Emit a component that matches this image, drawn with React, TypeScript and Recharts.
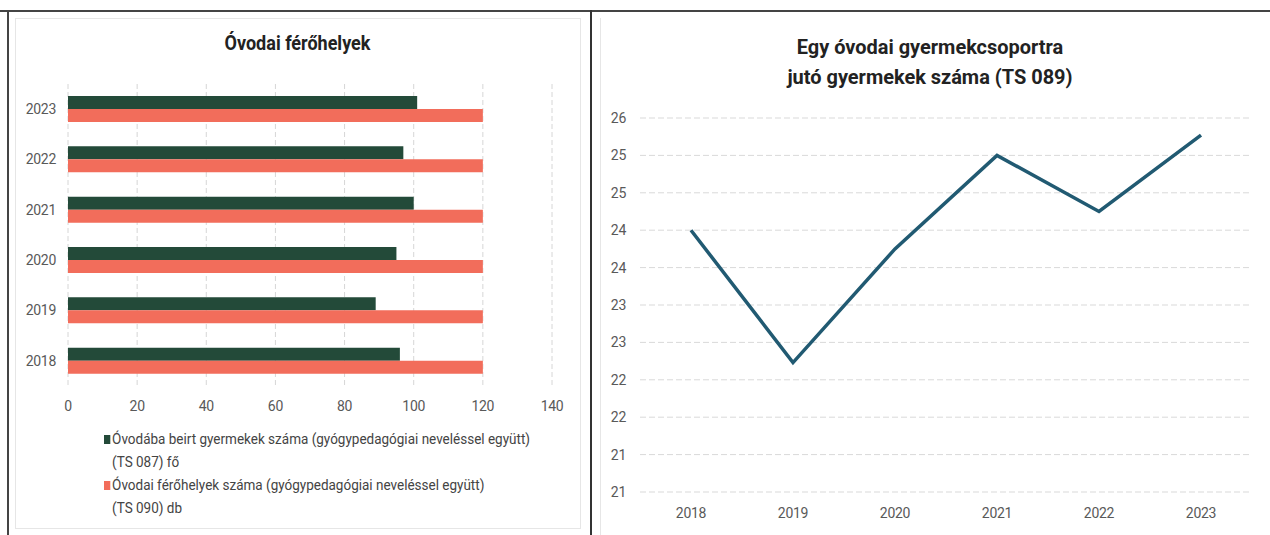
import { BarChart, Bar, LineChart, Line, XAxis, YAxis, CartesianGrid } from 'recharts';

const years = ['2018', '2019', '2020', '2021', '2022', '2023'];
const enrolled = [96, 89, 95, 100, 97, 101];
const places = [120, 120, 120, 120, 120, 120];
const perGroup = [24.5, 22.73, 24.25, 25.5, 24.75, 25.77];

const barTicks = [0, 20, 40, 60, 80, 100, 120, 140];
const lineTicks = [21, 21.5, 22, 22.5, 23, 23.5, 24, 24.5, 25, 25.5, 26];

const GREEN = '#234a39';
const RED = '#f26d5b';
const LINE = '#215a72';
const FONT = "'Liberation Sans Narrow', 'Roboto', sans-serif";
const TICK = { fill: '#595959', fontSize: 14, fontFamily: FONT, letterSpacing: -0.3 };

const barData = years.map((y, i) => ({ year: y, enrolled: enrolled[i], places: places[i] }));
const lineData = years.map((y, i) => ({ year: y, value: perGroup[i] }));

function LegendItem({ color, lines }: { color: string; lines: string[] }) {
  return (
    <div style={{ display: 'flex', alignItems: 'flex-start' }}>
      <span style={{ width: 7, height: 9, background: color, marginTop: 6, marginRight: 2, flexShrink: 0 }} />
      <div>
        {lines.map((l) => (
          <div key={l} style={{ height: 23, lineHeight: '20px', whiteSpace: 'nowrap' }}>{l}</div>
        ))}
      </div>
    </div>
  );
}

export default function App() {
  return (
    <div style={{ position: 'absolute', left: 0, top: 0, width: 1270, height: 535, background: '#fff', overflow: 'hidden', fontFamily: FONT }}>
      {/* scan frame */}
      <div style={{ position: 'absolute', left: 0, top: 10, width: 1270, height: 2, background: '#444' }} />
      <div style={{ position: 'absolute', left: 7, top: 10, width: 2, height: 525, background: '#444' }} />
      <div style={{ position: 'absolute', left: 590, top: 10, width: 2, height: 525, background: '#333' }} />
      <div style={{ position: 'absolute', left: 15, top: 18, width: 564, height: 509, border: '1px solid #e6e6e6' }} />
      <div style={{ position: 'absolute', left: 600, top: 18, width: 670, height: 520, borderLeft: '1px solid #e6e6e6' }} />

      {/* left chart */}
      <div style={{ position: 'absolute', left: 0, top: 31, width: 595, textAlign: 'center', fontSize: 20, fontWeight: 'bold', color: '#222', transform: 'scaleX(0.9)' }}>
        Óvodai férőhelyek
      </div>
      <div style={{ position: 'absolute', left: 0, top: 0 }}>
        <BarChart
          width={600}
          height={430}
          data={barData}
          layout="vertical"
          margin={{ top: 84, right: 48, left: 0, bottom: 14 }}
          barSize={13}
          barGap={0}
        >
          <CartesianGrid horizontal={false} stroke="#d6d6d6" strokeDasharray="5 3" />
          <XAxis
            type="number"
            domain={[0, 140]}
            ticks={barTicks}
            tick={TICK}
            tickLine={false}
            axisLine={false}
            tickSize={0}
            tickMargin={15}
            height={30}
          />
          <YAxis
            type="category"
            dataKey="year"
            reversed
            width={68}
            tick={TICK}
            tickLine={false}
            axisLine={false}
            tickSize={0}
            tickMargin={12}
          />
          <Bar dataKey="enrolled" fill={GREEN} isAnimationActive={false} />
          <Bar dataKey="places" fill={RED} isAnimationActive={false} />
        </BarChart>
      </div>
      <div style={{ position: 'absolute', left: 104, top: 429, fontSize: 15, color: '#444', transform: 'scaleX(0.9)', transformOrigin: 'left top' }}>
        <LegendItem color={GREEN} lines={['Óvodába beirt gyermekek száma (gyógypedagógiai neveléssel együtt)', '(TS 087) fő']} />
        <LegendItem color={RED} lines={['Óvodai férőhelyek száma (gyógypedagógiai neveléssel együtt)', '(TS 090) db']} />
      </div>

      {/* right chart */}
      <div style={{ position: 'absolute', left: 592, top: 32, width: 676, textAlign: 'center', fontSize: 21, fontWeight: 'bold', color: '#222', lineHeight: '30px', transform: 'scaleX(0.95)' }}>
        Egy óvodai gyermekcsoportra
        <br />
        jutó gyermekek száma (TS 089)
      </div>
      <div style={{ position: 'absolute', left: 588, top: 0 }}>
        <LineChart
          width={682}
          height={535}
          data={lineData}
          margin={{ top: 118, right: 18, left: 0, bottom: 13 }}
        >
          <CartesianGrid vertical={false} stroke="#d9d9d9" strokeDasharray="6 3" />
          <XAxis
            dataKey="year"
            padding={{ left: 51, right: 51 }}
            tick={TICK}
            tickLine={false}
            axisLine={false}
            tickSize={0}
            tickMargin={16}
            height={30}
          />
          <YAxis
            type="number"
            domain={[21, 26]}
            ticks={lineTicks}
            tickFormatter={(v) => String(Math.floor(v))}
            width={52}
            tick={TICK}
            tickLine={false}
            axisLine={false}
            tickSize={0}
            tickMargin={14}
          />
          <Line
            type="linear"
            dataKey="value"
            stroke={LINE}
            strokeWidth={3.5}
            dot={false}
            isAnimationActive={false}
          />
        </LineChart>
      </div>
    </div>
  );
}
